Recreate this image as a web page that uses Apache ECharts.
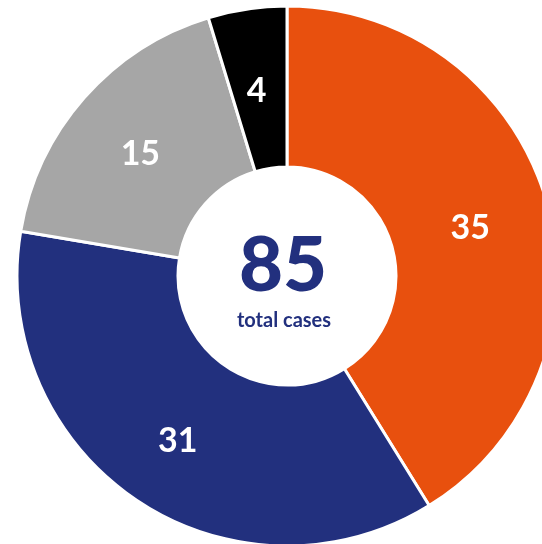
<!DOCTYPE html>
<html>
<head>
    <meta charset="utf-8" />
    <title>Total cases</title>
    <script src="https://cdn.jsdelivr.net/npm/echarts@6/dist/echarts.min.js"></script>
    <style>
        html, body { margin: 0; padding: 0; background: #fff; }
        #main { width: 542px; height: 544px; }
    </style>
</head>
<body>
    <div id="main"></div>
    <script type="text/javascript">
        // data
        var categories = ['A', 'B', 'C', 'D'];
        var values = [35, 31, 15, 4];
        var colors = ['#E8500E', '#22307E', '#A6A6A6', '#000000'];
        var totalLabel = 'total cases';

        var total = 0;
        for (var i = 0; i < values.length; i++) total += values[i];

        var pieData = [];
        for (var i = 0; i < values.length; i++) {
            pieData.push({ name: categories[i], value: values[i], itemStyle: { color: colors[i] } });
        }

        var myChart = echarts.init(document.getElementById('main'));
        var option = {
            animation: false,
            graphic: [
                {
                    type: 'text', x: 283, y: 266, z: 10,
                    style: {
                        text: String(total), fill: '#22307E', font: '900 76px Lato',
                        textAlign: 'center', textVerticalAlign: 'middle'
                    }
                },
                {
                    type: 'text', x: 284, y: 321, z: 10,
                    style: {
                        text: totalLabel, fill: '#22307E', font: 'bold 20px Lato',
                        textAlign: 'center', textVerticalAlign: 'middle'
                    }
                }
            ],
            series: [{
                type: 'pie',
                center: [287, 276],
                radius: [109, 270],
                startAngle: 90,
                clockwise: true,
                itemStyle: { borderColor: '#fff', borderWidth: 3 },
                label: {
                    show: true,
                    position: 'inside',
                    formatter: '{c}',
                    color: '#fff',
                    fontFamily: 'Lato',
                    fontWeight: 'bold',
                    fontSize: 34,
                    offset: [-2, 5]
                },
                labelLine: { show: false },
                emphasis: { disabled: true },
                data: pieData
            }]
        };
        myChart.setOption(option);
    </script>
</body>
</html>
